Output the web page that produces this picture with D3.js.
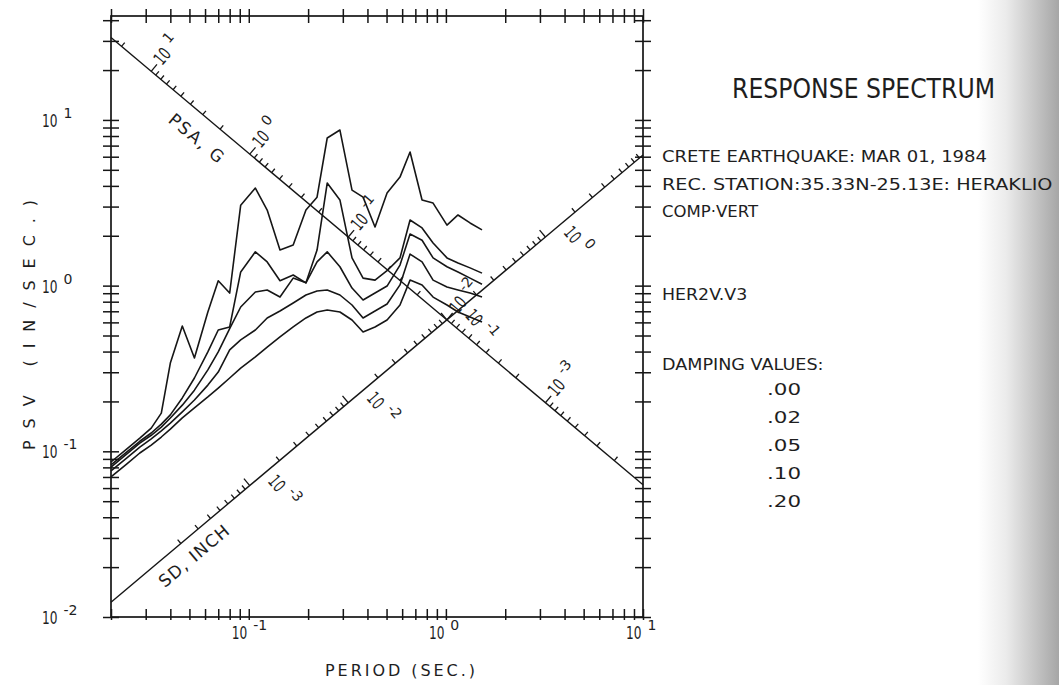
<!DOCTYPE html>
<html>
<head>
<meta charset="utf-8">
<title>Response Spectrum</title>
<script src="https://cdn.jsdelivr.net/npm/d3@7/dist/d3.min.js"></script>
<style>
  html, body { margin: 0; padding: 0; background: #ffffff; }
  svg { display: block; }
  text { font-family: "DejaVu Sans", "Liberation Sans", sans-serif; fill: #1e1e1e; }
</style>
</head>
<body>
<svg id="chart" width="1059" height="685"></svg>
<script>
// ---------------- data ----------------
const periods = [0.020, 0.024, 0.028, 0.032, 0.036, 0.040, 0.046, 0.053, 0.062, 0.070,
                 0.080, 0.091, 0.108, 0.124, 0.144, 0.168, 0.195, 0.222, 0.250, 0.290,
                 0.334, 0.380, 0.437, 0.503, 0.585, 0.658, 0.757, 0.861, 1.013, 1.152,
                 1.326, 1.525];

// pseudo spectral velocity (in/sec) for each damping ratio
const psvDamp000 = [0.0862, 0.103, 0.120, 0.138, 0.170, 0.341, 0.570, 0.366, 0.693, 1.07,
                    0.902, 3.06, 3.88, 2.86, 1.64, 1.76, 2.86, 3.42, 7.78, 8.69,
                    3.77, 3.42, 2.26, 3.62, 4.52, 6.40, 3.29, 3.15, 2.32, 2.67,
                    2.39, 2.17];
const psvDamp002 = [0.0827, 0.0990, 0.115, 0.129, 0.146, 0.166, 0.210, 0.277, 0.398, 0.540,
                    0.563, 1.21, 1.60, 1.39, 1.07, 1.16, 1.04, 1.64, 4.16, 3.29,
                    1.47, 1.11, 1.08, 1.23, 1.47, 2.49, 2.23, 1.81, 1.47, 1.37,
                    1.28, 1.19];
const psvDamp005 = [0.0804, 0.0963, 0.112, 0.125, 0.140, 0.159, 0.190, 0.234, 0.310, 0.398,
                    0.550, 0.743, 0.915, 0.941, 0.853, 1.11, 1.04, 1.39, 1.60, 1.30,
                    0.967, 0.819, 0.902, 0.994, 1.33, 2.05, 1.88, 1.47, 1.30, 1.21,
                    1.11, 1.02];
const psvDamp010 = [0.0761, 0.0911, 0.106, 0.119, 0.133, 0.148, 0.173, 0.204, 0.251, 0.301,
                    0.409, 0.470, 0.540, 0.638, 0.703, 0.785, 0.878, 0.928, 0.941, 0.878,
                    0.764, 0.638, 0.703, 0.775, 1.01, 1.55, 1.39, 1.08, 0.981, 0.941,
                    0.902, 0.853];
const psvDamp020 = [0.0700, 0.0838, 0.0977, 0.109, 0.122, 0.136, 0.159, 0.183, 0.213, 0.241,
                    0.277, 0.318, 0.371, 0.426, 0.490, 0.563, 0.638, 0.693, 0.713, 0.693,
                    0.620, 0.525, 0.563, 0.620, 0.764, 1.08, 1.01, 0.853, 0.764, 0.693,
                    0.647, 0.603];

const periodDomain = [0.02, 10];
const psvDomain = [0.01, 42.4];
const psvLabelDecades = [-2, -1, 0, 1];
const periodLabelDecades = [-1, 0, 1];

// diagonal scales: the PSA scale rides on the SD = 0.1 in line,
// the SD scale rides on the PSA = 0.01 g line
const sdOfPsaScale = 0.1;
const psaOfSdScale = 0.01;
const psaTickRange = [1e-4, 20];
const sdTickRange = [2e-4, 10];
const psaLabelDecades = [1, 0, -1, -2, -3];
const sdLabelDecades = [-3, -2, -1, 0];
const psaScaleTitle = "PSA, G";
const sdScaleTitle = "SD, INCH";

const xTitle = "PERIOD (SEC.)";
const yTitle = "PSV (IN/SEC.)";
const titleText = "RESPONSE SPECTRUM";
const infoLines = ["CRETE EARTHQUAKE: MAR 01, 1984",
                   "REC. STATION:35.33N-25.13E: HERAKLIO",
                   "COMP\u00B7VERT"];
const recordName = "HER2V.V3";
const dampingHeading = "DAMPING VALUES:";
const dampingLabels = [".00", ".02", ".05", ".10", ".20"];

// ---------------- layout ----------------
const svg = d3.select("#chart");
const frame = { left: 111, right: 643, top: 16, bottom: 617 };
const ink = "#161616";

const x = d3.scaleLog().domain(periodDomain).range([frame.left, frame.right]);
const y = d3.scaleLog().domain(psvDomain).range([frame.bottom, frame.top]);

// darkened strip along the right edge of the sheet
const defs = svg.append("defs");
const grad = defs.append("linearGradient").attr("id", "edgeShade")
  .attr("x1", "0").attr("x2", "1").attr("y1", "0").attr("y2", "0");
grad.append("stop").attr("offset", "0%").attr("stop-color", "#ffffff");
grad.append("stop").attr("offset", "35%").attr("stop-color", "#ebebeb");
grad.append("stop").attr("offset", "100%").attr("stop-color", "#a6a6a6");
svg.append("rect").attr("x", 978).attr("y", 0).attr("width", 81).attr("height", 685)
  .attr("fill", "url(#edgeShade)");

function logTicks(lo, hi) {
  const out = [];
  for (let k = Math.floor(Math.log10(lo)) - 1; k <= Math.ceil(Math.log10(hi)); k++) {
    for (let m = 1; m <= 9; m++) {
      const v = m * Math.pow(10, k);
      if (v >= lo * 0.999 && v <= hi * 1.001) out.push(v);
    }
  }
  return out;
}
const xTickVals = logTicks(periodDomain[0], periodDomain[1]);
const yTickVals = logTicks(psvDomain[0], psvDomain[1]);

// frame
svg.append("rect")
  .attr("x", frame.left).attr("y", frame.top)
  .attr("width", frame.right - frame.left).attr("height", frame.bottom - frame.top)
  .attr("fill", "none").attr("stroke", ink).attr("stroke-width", 1.7);

// crossing tick marks on all four sides, built from paired axes
function tickPair(gen1, gen2, tf, len1, len2, vals) {
  [[gen1, len1], [gen2, len2]].forEach(([gen, len]) => {
    const g = svg.append("g").attr("transform", tf)
      .call(gen.tickValues(vals).tickSize(len).tickFormat(""));
    g.select(".domain").remove();
    g.selectAll("line").attr("stroke", ink).attr("stroke-width", 1.5);
  });
}
tickPair(d3.axisLeft(y), d3.axisRight(y), `translate(${frame.left},0)`, 8, 8, yTickVals);
tickPair(d3.axisLeft(y), d3.axisRight(y), `translate(${frame.right},0)`, 8, 8, yTickVals);
tickPair(d3.axisTop(x), d3.axisBottom(x), `translate(0,${frame.top})`, 7, 7, xTickVals);
tickPair(d3.axisTop(x), d3.axisBottom(x), `translate(0,${frame.bottom})`, 8, 3, xTickVals);

// "10" with a raised exponent
function powerLabel(g, exp, size) {
  g.append("text").attr("x", 0).attr("y", 0).attr("font-size", size)
    .attr("textLength", size * 0.86).attr("lengthAdjust", "spacingAndGlyphs").text("10");
  g.append("text").attr("x", size * 0.86 + 6).attr("y", -size * 0.5)
    .attr("font-size", size * 0.78).text(String(exp));
}

// left axis labels
psvLabelDecades.forEach(k => {
  const g = svg.append("g").attr("transform", `translate(42,${y(Math.pow(10, k)) + 7})`);
  powerLabel(g, k, 18);
});
// bottom axis labels
periodLabelDecades.forEach(k => {
  const g = svg.append("g").attr("transform", `translate(${x(Math.pow(10, k)) - 17},639)`);
  powerLabel(g, k, 18);
});

// axis titles
svg.append("text")
  .attr("transform", "translate(35,325) rotate(-90)")
  .attr("text-anchor", "middle").attr("font-size", 16)
  .attr("textLength", 250).attr("lengthAdjust", "spacing").text(yTitle);
svg.append("text")
  .attr("x", 400).attr("y", 676).attr("text-anchor", "middle").attr("font-size", 16)
  .attr("textLength", 150).attr("lengthAdjust", "spacing").text(xTitle);

// ---------------- tripartite diagonals ----------------
const G = 386.09, TWO_PI = 2 * Math.PI;
const psvOnSdLine = T => TWO_PI * sdOfPsaScale / T;            // constant SD
const tAtPsa = a => TWO_PI * Math.sqrt(sdOfPsaScale / (G * a));
const psvOnPsaLine = T => psaOfSdScale * G * T / TWO_PI;       // constant PSA
const tAtSd = d => TWO_PI * Math.sqrt(d / (psaOfSdScale * G));

function direction(f) {
  const p0 = [x(0.1), y(f(0.1))], p1 = [x(1), y(f(1))];
  const dx = p1[0] - p0[0], dy = p1[1] - p0[1], L = Math.hypot(dx, dy);
  return [dx / L, dy / L];
}

function drawScale(f, tAt, tickRange, decades, labelSide) {
  const d = direction(f);
  const n = [d[1], -d[0]];                 // side carrying the tick marks
  const g = svg.append("g");
  g.append("line")
    .attr("x1", x(periodDomain[0])).attr("y1", y(f(periodDomain[0])))
    .attr("x2", x(periodDomain[1])).attr("y2", y(f(periodDomain[1])))
    .attr("stroke", ink).attr("stroke-width", 1.4);
  logTicks(tickRange[0], tickRange[1]).forEach(v => {
    const T = tAt(v);
    if (T < periodDomain[0] || T > periodDomain[1]) return;
    const major = Math.abs(Math.log10(v) - Math.round(Math.log10(v))) < 1e-9;
    const px = x(T), py = y(f(T)), len = major ? 9 : 5;
    g.append("line").attr("x1", px).attr("y1", py)
      .attr("x2", px + n[0] * len).attr("y2", py + n[1] * len)
      .attr("stroke", ink).attr("stroke-width", 1.3);
  });
  decades.forEach(k => {
    const T = tAt(Math.pow(10, k));
    const px = x(T), py = y(f(T));
    let ax, ay, ang;
    if (labelSide === "ticks") {
      ax = px + n[0] * 11 + d[0] * 5; ay = py + n[1] * 11 + d[1] * 5;
      ang = Math.atan2(n[1], n[0]) * 180 / Math.PI;
    } else {
      ax = px - n[0] * 8 + d[0] * 16; ay = py - n[1] * 8 + d[1] * 16;
      ang = Math.atan2(-n[1], -n[0]) * 180 / Math.PI;
    }
    const lg = g.append("g").attr("transform", `translate(${ax},${ay}) rotate(${ang})`);
    powerLabel(lg, k, 18);
  });
  return { d, n };
}

const psaAxis = drawScale(psvOnSdLine, tAtPsa, psaTickRange, psaLabelDecades, "ticks");
const sdAxis = drawScale(psvOnPsaLine, tAtSd, sdTickRange, sdLabelDecades, "below");

function scaleTitle(f, T, off, n, d, text, len) {
  const px = x(T) - n[0] * off, py = y(f(T)) - n[1] * off;
  const ang = Math.atan2(d[1], d[0]) * 180 / Math.PI;
  svg.append("text")
    .attr("transform", `translate(${px},${py}) rotate(${ang})`)
    .attr("text-anchor", "middle").attr("dy", "0.35em").attr("font-size", 17)
    .attr("textLength", len).attr("lengthAdjust", "spacing").text(text);
}
scaleTitle(psvOnSdLine, 0.064, 22, psaAxis.n, psaAxis.d, psaScaleTitle, 66);
scaleTitle(psvOnPsaLine, 0.046, 18, sdAxis.n, sdAxis.d, sdScaleTitle, 86);

// ---------------- spectra ----------------
const series = [psvDamp000, psvDamp002, psvDamp005, psvDamp010, psvDamp020];
const line = d3.line().x(p => x(p[0])).y(p => y(p[1]));
series.forEach(vals => {
  svg.append("path")
    .attr("d", line(periods.map((t, i) => [t, vals[i]])))
    .attr("fill", "none").attr("stroke", ink)
    .attr("stroke-width", 1.6).attr("stroke-linejoin", "round");
});

// ---------------- header text ----------------
const textLeft = 662, pitch = 10.9;
function plain(str, xx, yy, size, len) {
  svg.append("text").attr("x", xx).attr("y", yy).attr("font-size", size)
    .attr("textLength", len).attr("lengthAdjust", "spacingAndGlyphs").text(str);
}
plain(titleText, 732, 98, 27, 263);
infoLines.forEach((s, i) => plain(s, textLeft, 162 + i * 27.5, 16, s.length * pitch - 2));
plain(recordName, textLeft, 300, 16, recordName.length * pitch - 2);
plain(dampingHeading, textLeft, 370, 16, dampingHeading.length * pitch - 2);
dampingLabels.forEach((s, i) => plain(s, 767, 395 + i * 28, 16, 34));
</script>
</body>
</html>
